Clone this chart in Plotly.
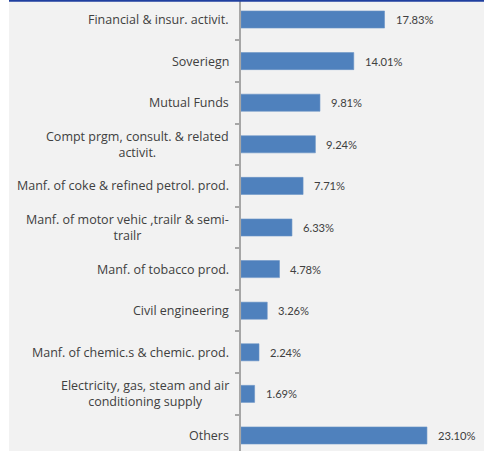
import plotly.graph_objects as go

# Sector exposure, top of chart first
categories = [
    "Financial & insur. activit.",
    "Soveriegn",
    "Mutual Funds",
    "Compt prgm, consult. & related<br>activit.",
    "Manf. of coke & refined petrol. prod.",
    "Manf. of motor vehic ,trailr & semi-<br>trailr",
    "Manf. of tobacco prod.",
    "Civil engineering",
    "Manf. of chemic.s & chemic. prod.",
    "Electricity, gas, steam and air<br>conditioning supply",
    "Others",
]
shares = [17.83, 14.01, 9.81, 9.24, 7.71, 6.33, 4.78, 3.26, 2.24, 1.69, 23.10]
share_labels = ["17.83%", "14.01%", "9.81%", "9.24%", "7.71%", "6.33%",
                "4.78%", "3.26%", "2.24%", "1.69%", "23.10%"]

W, H = 484, 451
LEFT = 241
LABEL_FONT = dict(family="Open Sans", size=12.5, color="#404040")
VALUE_FONT = dict(family="Lato", size=11.2, color="#404040")

idx = list(range(len(categories)))

fig = go.Figure(
    go.Bar(
        x=shares,
        y=idx,
        orientation="h",
        marker=dict(color="#4f81bd", line=dict(color="#6a93c6", width=0.6)),
        width=0.41,
        hoverinfo="skip",
    )
)

annotations = []
for i, (cat, v, lab) in enumerate(zip(categories, shares, share_labels)):
    annotations.append(dict(
        x=0, y=i, xref="x", yref="y", text=cat, showarrow=False,
        xanchor="right", yanchor="middle", align="center", xshift=-10,
        font=LABEL_FONT,
    ))
    annotations.append(dict(
        x=v, y=i, xref="x", yref="y", text=lab, showarrow=False,
        xanchor="left", yanchor="middle", xshift=9,
        font=VALUE_FONT,
    ))

x_span = (W - LEFT) / 8.05

fig.update_layout(
    width=W, height=H,
    margin=dict(l=LEFT, r=0, t=0, b=0),
    paper_bgcolor="#f2f2f2",
    plot_bgcolor="#f2f2f2",
    showlegend=False,
    annotations=annotations,
    xaxis=dict(range=[0, x_span], visible=False, fixedrange=True),
    yaxis=dict(
        range=[10.373, -0.469],
        tickmode="array",
        tickvals=[i + 0.5 for i in idx[:-1]],
        ticktext=["" for _ in idx[:-1]],
        ticks="outside", ticklen=4, tickwidth=1.5, tickcolor="#a6a6a6",
        showline=True, linecolor="#a6a6a6", linewidth=2,
        showgrid=False, zeroline=False, fixedrange=True,
    ),
    shapes=[
        # white strip at the left edge
        dict(type="rect", xref="paper", yref="paper",
             x0=-LEFT / (W - LEFT), x1=(9 - LEFT) / (W - LEFT), y0=0, y1=1,
             fillcolor="white", line=dict(width=0), layer="above"),
        # navy rule along the top
        dict(type="line", xref="paper", yref="paper",
             x0=(9 - LEFT) / (W - LEFT), x1=1, y0=1, y1=1,
             line=dict(color="#1f3f9f", width=3.5), layer="above"),
    ],
)

fig.write_html("out.html")
